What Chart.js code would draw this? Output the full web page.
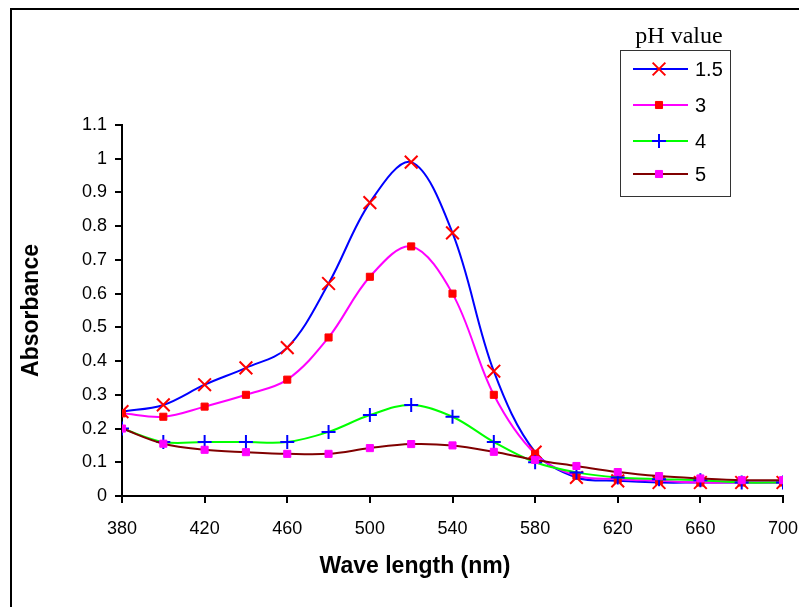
<!DOCTYPE html>
<html>
<head>
<meta charset="utf-8">
<script src="https://cdn.jsdelivr.net/npm/chart.js@4.4.1/dist/chart.umd.min.js"></script>
<style>
  html, body { margin: 0; padding: 0; background: #fff; }
  #wrap { width: 799px; height: 607px; position: relative; }
</style>
</head>
<body>
<div id="wrap"><canvas id="chart" width="799" height="607"></canvas></div>
<script>
const wavelengths = [380, 400, 420, 440, 460, 480, 500, 520, 540, 560, 580, 600, 620, 640, 660, 680, 700];
const ph15 = [0.25, 0.27, 0.33, 0.38, 0.44, 0.63, 0.87, 0.99, 0.78, 0.37, 0.13, 0.055, 0.045, 0.04, 0.04, 0.04, 0.04];
const ph3 = [0.245, 0.235, 0.265, 0.30, 0.345, 0.47, 0.65, 0.74, 0.60, 0.30, 0.125, 0.06, 0.05, 0.045, 0.04, 0.04, 0.04];
const ph4 = [0.20, 0.16, 0.16, 0.16, 0.16, 0.19, 0.24, 0.27, 0.235, 0.16, 0.10, 0.07, 0.055, 0.05, 0.047, 0.04, 0.04];
const ph5 = [0.20, 0.155, 0.137, 0.13, 0.125, 0.125, 0.142, 0.154, 0.15, 0.131, 0.107, 0.089, 0.071, 0.059, 0.052, 0.047, 0.047];
const seriesLabels = ['1.5', '3', '4', '5'];
const legendTitle = 'pH value';
const xTitle = 'Wave length (nm)';

const toPoints = (values) => values.map((y, i) => ({ x: wavelengths[i], y }));

const styles = [
  { line: '#0000ff', marker: '#ff0000', pointStyle: 'crossRot', radius: 9, fill: false },
  { line: '#ff00ff', marker: '#ff0000', pointStyle: 'rect', radius: 5, fill: true },
  { line: '#00ff00', marker: '#0000ff', pointStyle: 'cross', radius: 7, fill: false },
  { line: '#800000', marker: '#ff00ff', pointStyle: 'rect', radius: 5, fill: true },
];

const datasets = [ph15, ph3, ph4, ph5].map((values, i) => ({
  label: seriesLabels[i],
  data: toPoints(values),
  borderColor: styles[i].line,
  borderWidth: 2,
  tension: 0.35,
  pointStyle: styles[i].pointStyle,
  pointRadius: styles[i].radius,
  pointBorderColor: styles[i].marker,
  pointBackgroundColor: styles[i].marker,
  pointBorderWidth: styles[i].fill ? 1 : 2,
  order: 4 - i,
}));

// outer frame, x title (sits left of centre in the original) and legend box
const framePlugin = {
  id: 'frame',
  beforeDraw(chart) {
    const ctx = chart.ctx;
    ctx.save();
    ctx.fillStyle = '#000';
    ctx.fillRect(10, 8, 789, 2);
    ctx.fillRect(10, 8, 2, 599);
    ctx.restore();
  },
  afterDraw(chart) {
    const ctx = chart.ctx;
    ctx.save();
    ctx.fillStyle = '#000';
    ctx.font = 'bold 23px "Liberation Sans", Arial, sans-serif';
    ctx.textAlign = 'center';
    ctx.textBaseline = 'middle';
    ctx.fillText(xTitle, 415, 567);

    ctx.font = '24px "Liberation Serif", "Times New Roman", serif';
    ctx.textBaseline = 'alphabetic';
    ctx.fillText(legendTitle, 679, 43);

    ctx.strokeStyle = '#333';
    ctx.lineWidth = 1;
    ctx.strokeRect(620.5, 50.5, 110, 146);

    const rows = [69, 105, 141, 174];
    ctx.font = '20px "Liberation Sans", Arial, sans-serif';
    ctx.textAlign = 'left';
    ctx.textBaseline = 'middle';
    rows.forEach((y, i) => {
      const s = styles[i];
      ctx.strokeStyle = s.line;
      ctx.lineWidth = 2;
      ctx.beginPath();
      ctx.moveTo(633, y);
      ctx.lineTo(688, y);
      ctx.stroke();
      ctx.strokeStyle = s.marker;
      ctx.fillStyle = s.marker;
      ctx.lineWidth = s.fill ? 1 : 2;
      Chart.helpers.drawPoint(ctx, { pointStyle: s.pointStyle, radius: s.radius, rotation: 0, borderWidth: ctx.lineWidth }, 659, y);
      ctx.fillStyle = '#000';
      ctx.fillText(seriesLabels[i], 695, y + 1);
    });
    ctx.restore();
  },
};

const tickFont = { family: '"Liberation Sans", Arial, sans-serif', size: 18 };

new Chart(document.getElementById('chart'), {
  type: 'line',
  data: { datasets },
  plugins: [framePlugin],
  options: {
    responsive: false,
    animation: false,
    layout: { padding: { left: 10, top: 125, right: 16, bottom: 20 } },
    plugins: { legend: { display: false }, tooltip: { enabled: false } },
    scales: {
      x: {
        type: 'linear',
        min: 380,
        max: 700,
        ticks: { stepSize: 40, color: '#000', font: tickFont, padding: 15, maxRotation: 0 },
        grid: { drawOnChartArea: false, drawTicks: true, tickLength: 7, color: '#000', lineWidth: 2 },
        border: { display: true, color: '#000', width: 2 },
        afterFit(scale) {
          scale.height = 91;
          scale.paddingLeft = 0;
          scale.paddingRight = 0;
        },
      },
      y: {
        min: 0,
        max: 1.1,
        ticks: {
          stepSize: 0.1,
          color: '#000',
          font: tickFont,
          padding: 8,
          callback: (v) => String(Math.round(v * 10) / 10),
        },
        grid: { drawOnChartArea: false, drawTicks: true, tickLength: 7, color: '#000', lineWidth: 2 },
        border: { display: true, color: '#000', width: 2 },
        title: {
          display: true,
          text: 'Absorbance',
          color: '#000',
          font: { family: '"Liberation Sans", Arial, sans-serif', size: 23, weight: 'bold' },
          padding: { top: 8, bottom: 0 },
        },
        afterFit(scale) { scale.width = 112; },
      },
    },
  },
});
</script>
</body>
</html>
